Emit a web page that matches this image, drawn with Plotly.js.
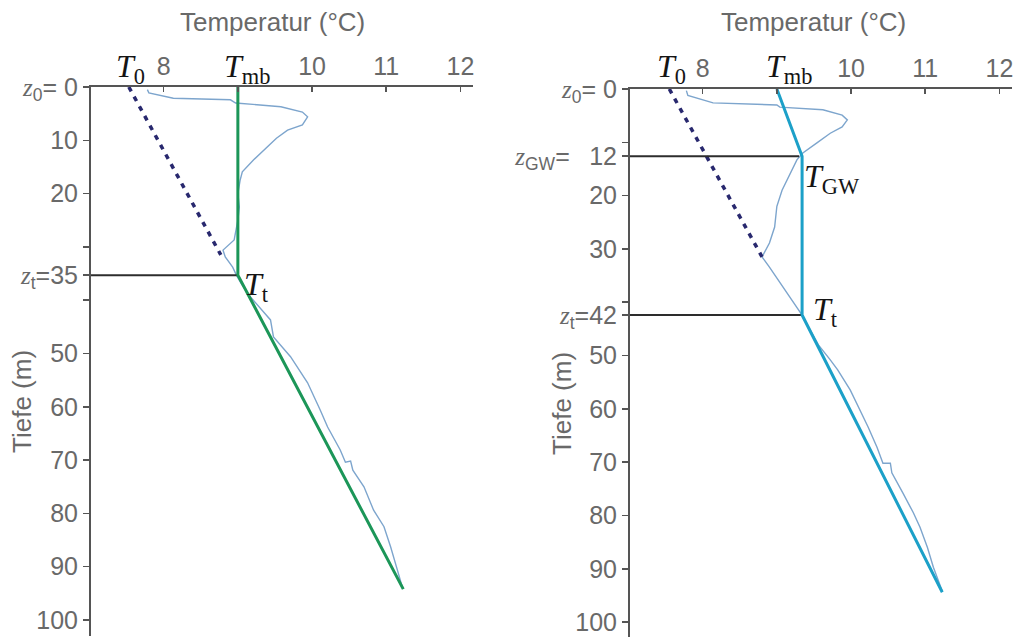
<!DOCTYPE html>
<html>
<head>
<meta charset="utf-8">
<script src="https://cdn.plot.ly/plotly-3.0.1.min.js"></script>
<style>html,body{margin:0;padding:0;background:#fff;}#chart{width:1013px;height:637px;}</style>
</head>
<body>
<div id="chart"></div>
<script>
// ---------- data: left panel ----------
var leftProfileT = [7.78,7.80,8.13,8.90,8.97,9.58,9.87,9.94,9.87,9.67,9.52,9.40,9.21,9.06,9.03,9.00,9.02,9.00,8.95,8.80,8.83,8.93,8.98,9.05,9.17,9.44,9.48,9.71,9.94,10.11,10.21,10.38,10.45,10.52,10.55,10.70,10.83,10.97,11.06,11.15,11.22];
var leftProfileZ = [0.5,1.1,2.1,2.4,3.0,3.7,4.7,5.6,7.1,8.1,9.6,11.2,13.7,15.9,17.5,20,22.5,25,28.7,30.6,31.9,33.8,35.3,37,39.4,43.7,46.9,50.6,55.5,60.6,63.8,68.1,70.4,70.2,71.9,75,79.4,82.5,86.3,90.6,94];
var leftModelT = [9.0, 9.0, 11.23];
var leftModelZ = [0, 35.3, 94.2];
var leftT0T = [7.53, 8.77];
var leftT0Z = [0, 31.5];
var leftZt = 35.3;

// ---------- data: right panel ----------
var rightProfileT = [7.78,7.80,8.14,9.00,9.04,9.62,9.88,9.95,9.88,9.72,9.54,9.35,9.27,9.18,9.07,9.00,8.97,8.90,8.80,8.90,9.08,9.27,9.34,9.44,9.56,9.72,9.82,9.99,10.12,10.23,10.35,10.43,10.53,10.55,10.70,10.84,10.93,11.03,11.11,11.23];
var rightProfileZ = [0.3,1.2,2.6,3.0,3.4,3.9,4.9,5.8,7.1,8.3,10.1,12.0,13.3,15.8,19,22,25.9,28.9,31.5,33.4,37.1,40.9,42.4,45,48,50.8,52.7,56.5,60.2,63.4,67.2,70.2,70.2,72,75.8,79.5,82.2,86,89.7,94.2];
var rightModelT = [9.0, 9.34, 9.34, 11.23];
var rightModelZ = [0, 12.6, 42.4, 94.4];
var rightT0T = [7.55, 8.80];
var rightT0Z = [0, 31.5];
var rightZgw = 12.6;
var rightZt = 42.4;

// ---------- tick labels ----------
var xTickVals = [8, 10, 11, 12];
var xTickText = ['8', '10', '11', '12'];
var xMinorVals = [9];
var zs = '<span style="font-family:Liberation Serif;font-style:italic">z</span>';
var leftYTickVals = [0, 10, 20, leftZt, 50, 60, 70, 80, 90, 100];
var leftYTickText = [zs + '<sub>0</sub>= 0', '10', '20', zs + '<sub>t</sub>=35', '50', '60', '70', '80', '90', '100'];
var leftYMinorVals = [30, 40];
var rightYTickVals = [0, rightZgw, 20, 30, rightZt, 50, 60, 70, 80, 90, 100];
var rightYTickText = [zs + '<sub>0</sub>= 0', zs + '<sub>GW</sub>=\u2002 12', '20', '30', zs + '<sub>t</sub>=42', '50', '60', '70', '80', '90', '100'];
var rightYMinorVals = [10, 40];

var profCol = 'rgb(125,165,205)';
var green = 'rgb(28,150,88)';
var cyan = 'rgb(28,160,200)';
var navy = 'rgb(40,40,110)';
var blk = 'rgb(45,45,45)';
var gray = 'rgb(105,105,105)';
var axc = 'rgb(85,85,85)';
var W = 1013, H = 637;

var traces = [
  {x: leftProfileT, y: leftProfileZ, xaxis: 'x', yaxis: 'y', mode: 'lines', line: {color: profCol, width: 1.4}},
  {x: leftT0T, y: leftT0Z, xaxis: 'x', yaxis: 'y', mode: 'lines', line: {color: navy, width: 3.5, dash: '5px,6px'}},
  {x: [7.02, leftModelT[1]], y: [leftZt, leftZt], xaxis: 'x', yaxis: 'y', mode: 'lines', line: {color: blk, width: 2}},
  {x: leftModelT, y: leftModelZ, xaxis: 'x', yaxis: 'y', mode: 'lines', line: {color: green, width: 3}},
  {x: rightProfileT, y: rightProfileZ, xaxis: 'x2', yaxis: 'y2', mode: 'lines', line: {color: profCol, width: 1.4}},
  {x: rightT0T, y: rightT0Z, xaxis: 'x2', yaxis: 'y2', mode: 'lines', line: {color: navy, width: 3.5, dash: '5px,6px'}},
  {x: [7.02, 9.3], y: [rightZgw, rightZgw], xaxis: 'x2', yaxis: 'y2', mode: 'lines', line: {color: blk, width: 2}},
  {x: [7.02, rightModelT[2]], y: [rightZt, rightZt], xaxis: 'x2', yaxis: 'y2', mode: 'lines', line: {color: blk, width: 2}},
  {x: rightModelT, y: rightModelZ, xaxis: 'x2', yaxis: 'y2', mode: 'lines', line: {color: cyan, width: 3}}
];

var sans = 'Liberation Sans, Arial, sans-serif';
var tickFont = {family: sans, size: 25, color: gray};
function xax(d0, d1) {
  return {domain: [d0 / W, d1 / W], range: [7.02, 12.17], side: 'top', showgrid: false, zeroline: false,
    showline: true, linecolor: axc, linewidth: 2, ticks: 'inside', ticklen: 5, tickwidth: 1.5, tickcolor: axc,
    tickvals: xTickVals, ticktext: xTickText, tickfont: tickFont, ticklabeloverflow: 'allow', fixedrange: true,
    minor: {tickmode: 'array', tickvals: xMinorVals, ticks: 'inside', ticklen: 5, tickwidth: 1.5, tickcolor: axc, showgrid: false}};
}
function yax(top, bot, rmax, vals, txt, minorVals, anchor) {
  return {domain: [1 - bot / H, 1 - top / H], range: [rmax, 0], anchor: anchor, showgrid: false, zeroline: false,
    showline: true, linecolor: axc, linewidth: 2, ticks: 'outside', ticklen: 6, tickwidth: 1.5, tickcolor: axc,
    tickvals: vals, ticktext: txt, tickfont: tickFont, ticklabeloverflow: 'allow', fixedrange: true,
    minor: {tickmode: 'array', tickvals: minorVals, ticks: 'outside', ticklen: 6, tickwidth: 1.5, tickcolor: axc, showgrid: false}};
}

var serif = 'Liberation Serif, Times New Roman, serif';
function px(x) { return x / W; }
function py(y) { return 1 - y / H; }
function tLabel(x, y, sub) {
  return {x: px(x), y: py(y), xref: 'paper', yref: 'paper', showarrow: false, xanchor: 'left', yanchor: 'middle',
    text: '<i>T</i><sub>' + sub + '</sub>', font: {family: serif, size: 32, color: 'rgb(20,20,20)'}};
}
function txt(x, y, s, ang) {
  return {x: px(x), y: py(y), xref: 'paper', yref: 'paper', showarrow: false, xanchor: 'center', yanchor: 'middle',
    textangle: ang || 0, text: s, font: {family: sans, size: 26, color: gray}};
}

var ann = [
  txt(272, 22, 'Temperatur (°C)'),
  txt(813, 22, 'Temperatur (°C)'),
  txt(22, 402, 'Tiefe (m)', -90),
  txt(562, 404, 'Tiefe (m)', -90),
  tLabel(114, 68, '0'),
  tLabel(222, 68, 'mb'),
  tLabel(242, 286, 't'),
  tLabel(655, 68, '0'),
  tLabel(764, 68, 'mb'),
  tLabel(802, 178, 'GW'),
  tLabel(811, 311, 't')
];

var layout = {
  width: W, height: H, margin: {l: 0, r: 0, t: 0, b: 0}, paper_bgcolor: '#fff', plot_bgcolor: 'rgba(0,0,0,0)',
  showlegend: false,
  xaxis: Object.assign(xax(91, 473), {anchor: 'y'}),
  yaxis: yax(87, 636, 103.0, leftYTickVals, leftYTickText, leftYMinorVals, 'x'),
  xaxis2: Object.assign(xax(630, 1012), {anchor: 'y2'}),
  yaxis2: yax(89, 637, 102.8, rightYTickVals, rightYTickText, rightYMinorVals, 'x2'),
  annotations: ann
};

Plotly.newPlot('chart', traces, layout, {displayModeBar: false, staticPlot: true});
</script>
</body>
</html>
